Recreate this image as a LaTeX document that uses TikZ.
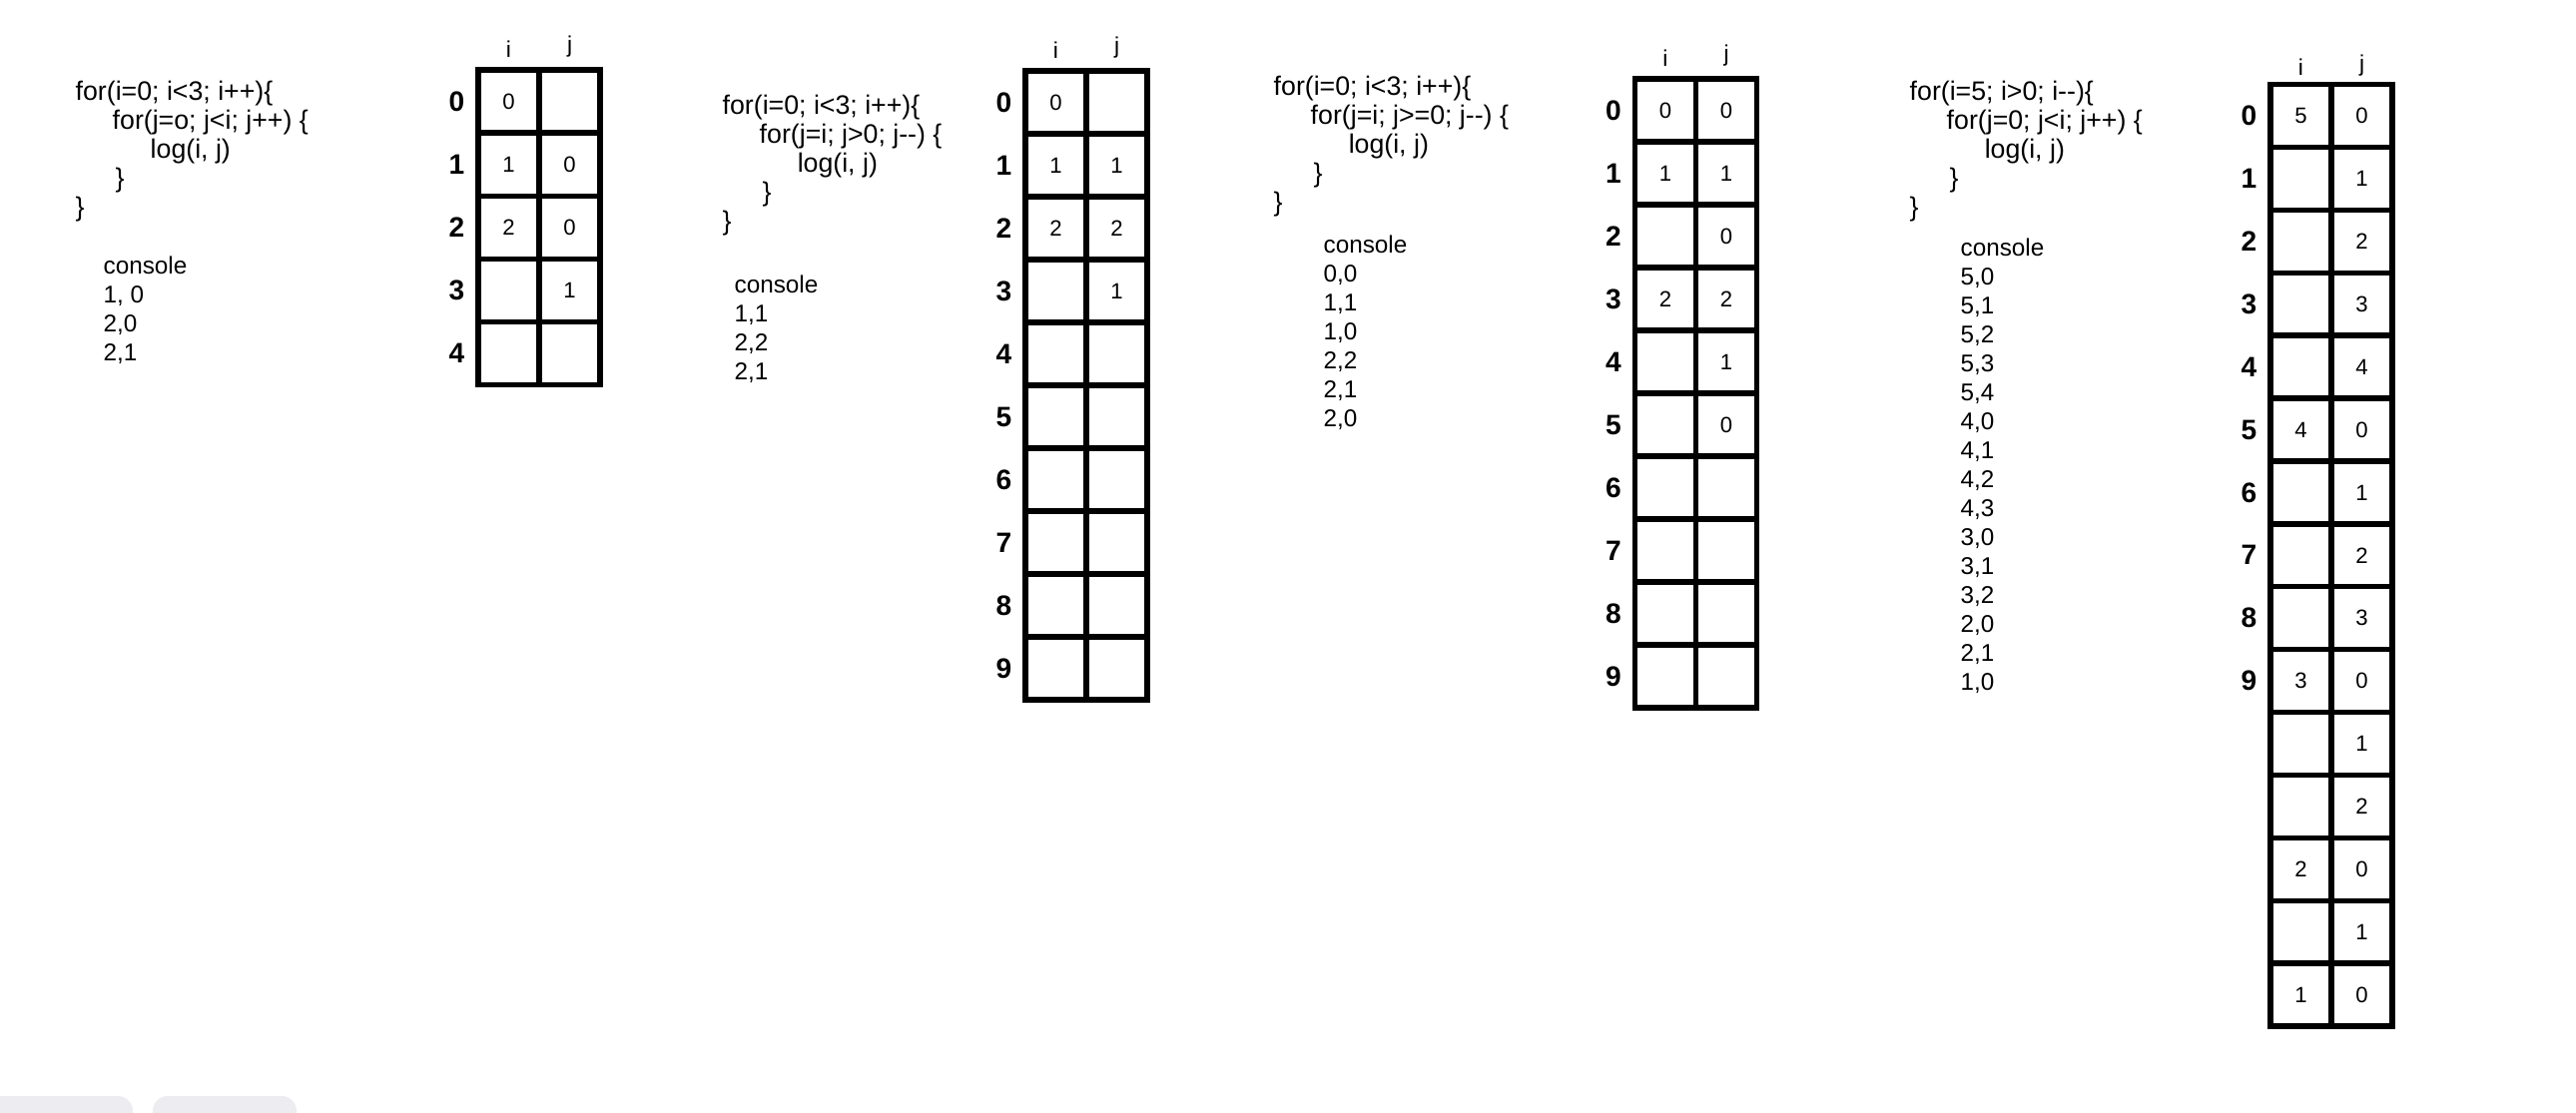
\documentclass[tikz,border=0pt]{standalone}
\usepackage{fontspec}
\setmainfont{Liberation Sans}
\usetikzlibrary{positioning}
\definecolor{barfill}{RGB}{236,236,241}

\begin{document}
\begin{tikzpicture}
  [x=0.01cm, y=-0.01cm,
  codebox/.style={anchor=north west, inner sep=0pt, align=left, font=\fontsize{7.6}{8.25}\selectfont},
  outbox/.style={anchor=north west, inner sep=0pt, align=left, font=\fontsize{6.9}{8.25}\selectfont},
  cell/.style={rectangle, draw, line width=1.5pt, outer sep=0pt, inner sep=0pt, minimum width=0.61cm, minimum height=0.63cm, font=\fontsize{6.3}{7}\selectfont},
  rowlabel/.style={inner sep=0pt, font=\fontsize{8}{9}\selectfont\bfseries},
  colhead/.style={inner sep=0pt, font=\fontsize{6.5}{7}\selectfont},
  uibar/.style={fill=barfill, draw=none, rounded corners=0.15cm}]
  \useasboundingbox (0,0) rectangle (2580,1114);
  % code
  \node [codebox] (code1) at (75,80) {for(i=0; i<3; i++)\{\\\hspace*{0.37cm}for(j=o; j<i; j++) \{\\\hspace*{0.75cm}log(i, j)\\\hspace*{0.4cm}\}\\\}};
  \node [codebox] (code2) at (723,94) {for(i=0; i<3; i++)\{\\\hspace*{0.37cm}for(j=i; j>0; j-{}-) \{\\\hspace*{0.75cm}log(i, j)\\\hspace*{0.4cm}\}\\\}};
  \node [codebox] (code3) at (1275,75) {for(i=0; i<3; i++)\{\\\hspace*{0.37cm}for(j=i; j>=0; j-{}-) \{\\\hspace*{0.75cm}log(i, j)\\\hspace*{0.4cm}\}\\\}};
  \node [codebox] (code4) at (1912,80) {for(i=5; i>0; i-{}-)\{\\\hspace*{0.37cm}for(j=0; j<i; j++) \{\\\hspace*{0.75cm}log(i, j)\\\hspace*{0.4cm}\}\\\}};
  % console
  \node [outbox] (out1) at (103,256) {console\\1, 0\\2,0\\2,1};
  \node [outbox] (out2) at (735,275) {console\\1,1\\2,2\\2,1};
  \node [outbox] (out3) at (1325,235) {console\\0,0\\1,1\\1,0\\2,2\\2,1\\2,0};
  \node [outbox] (out4) at (1963,238) {console\\5,0\\5,1\\5,2\\5,3\\5,4\\4,0\\4,1\\4,2\\4,3\\3,0\\3,1\\3,2\\2,0\\2,1\\1,0};
  % grid 1
  \foreach \a/\b [count=\r from 0] in {0/, 1/0, 2/0, /1, /} {
    \node [cell] (g1i\r) at (509.5, {101.5+63.2*\r}) {\a};
    \node [cell, right=0pt of g1i\r] (g1j\r) {\b};
    \node [rowlabel, left=0.13cm of g1i\r] (g1l\r) {\r};
  }
  \node [colhead, above=0.12cm of g1i0] (g1hi) {i};
  \node [colhead, above=0.12cm of g1j0] (g1hj) {j};
  % grid 2
  \foreach \a/\b [count=\r from 0] in {0/, 1/1, 2/2, /1, /, /, /, /, /, /} {
    \node [cell] (g2i\r) at (1057.5, {102.5+63*\r}) {\a};
    \node [cell, right=0pt of g2i\r] (g2j\r) {\b};
    \node [rowlabel, left=0.13cm of g2i\r] (g2l\r) {\r};
  }
  \node [colhead, above=0.12cm of g2i0] (g2hi) {i};
  \node [colhead, above=0.12cm of g2j0] (g2hj) {j};
  % grid 3
  \foreach \a/\b [count=\r from 0] in {0/0, 1/1, /0, 2/2, /1, /0, /, /, /, /} {
    \node [cell] (g3i\r) at (1668, {110.5+63*\r}) {\a};
    \node [cell, right=0pt of g3i\r] (g3j\r) {\b};
    \node [rowlabel, left=0.13cm of g3i\r] (g3l\r) {\r};
  }
  \node [colhead, above=0.12cm of g3i0] (g3hi) {i};
  \node [colhead, above=0.12cm of g3j0] (g3hj) {j};
  % grid 4
  \foreach \a/\b [count=\r from 0] in {5/0, /1, /2, /3, /4, 4/0, /1, /2, /3, 3/0, /1, /2, 2/0, /1, 1/0} {
    \node [cell] (g4i\r) at (2304.5, {116+62.9*\r}) {\a};
    \node [cell, right=0pt of g4i\r] (g4j\r) {\b};
  }
  \foreach \r in {0,...,9}
    \node [rowlabel, left=0.13cm of g4i\r] (g4l\r) {\r};
  \node [colhead, above=0.08cm of g4i0] (g4hi) {i};
  \node [colhead, above=0.08cm of g4j0] (g4hj) {j};
  % bars
  \fill [uibar] (-20,1098) rectangle (133,1140);
  \fill [uibar] (153,1098) rectangle (297,1140);
\end{tikzpicture}
\end{document}
